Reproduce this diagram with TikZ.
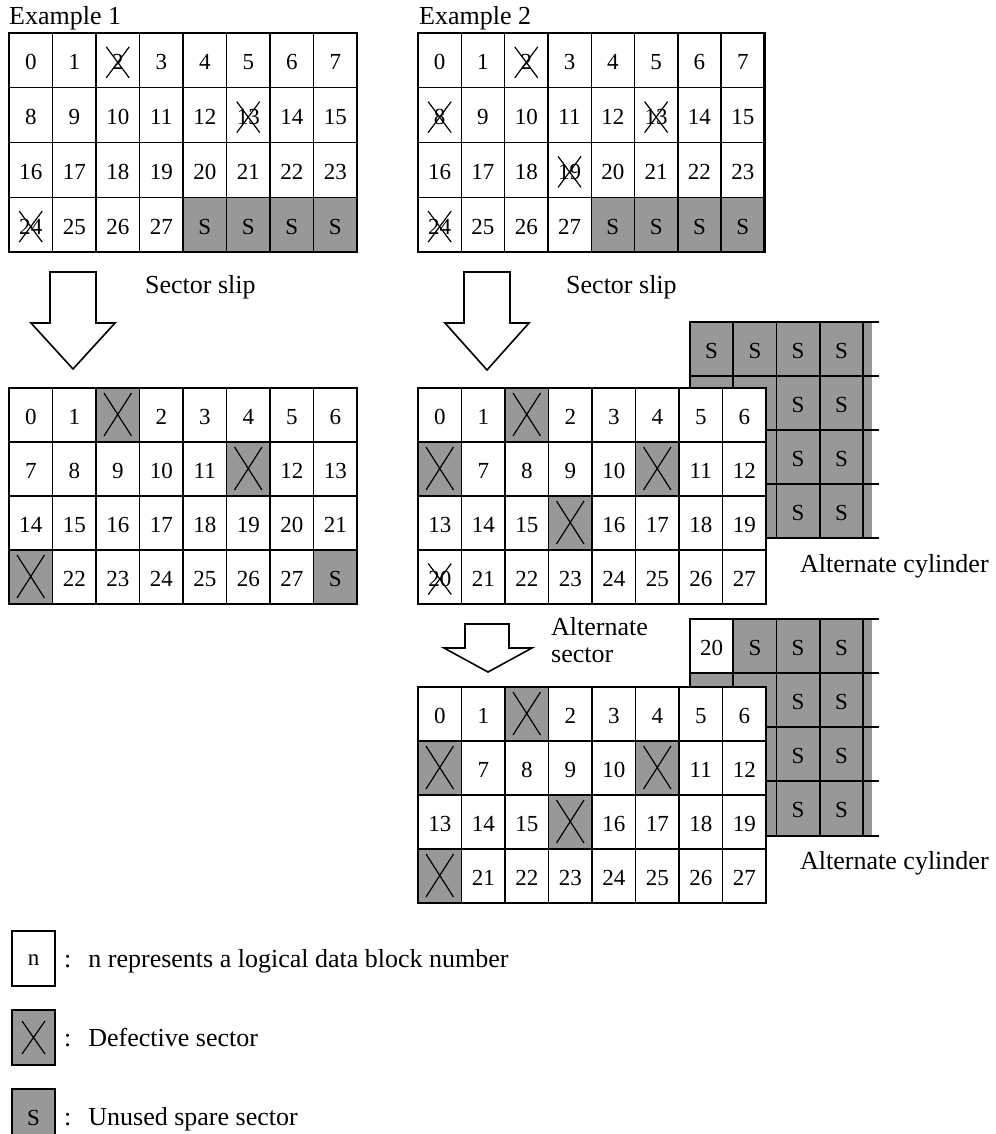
\documentclass[tikz,border=0pt]{standalone}
\usepackage{fontspec}
\setmainfont{Liberation Serif}
\definecolor{sgray}{RGB}{152,152,152}
\tikzset{
  num/.style={font=\fontsize{23}{23}\selectfont, inner sep=0pt},
  lbl/.style={font=\fontsize{26}{28}\selectfont, inner sep=0pt, anchor=base west},
  gridline/.style={line width=1.4pt},
  border/.style={line width=2.8pt},
  xline/.style={line width=1.2pt},
  blockarrow/.style={draw, line width=1.6pt, fill=white, line join=miter},
}
% #1 name, #2 x0, #3 y0, #4 cell width, #5 cell height, #6 gray cells c/r, #7 texts
\newcommand\sgrid[7]{%
  \begin{scope}[shift={(#2,#3)}]
    \fill[white] (0,0) rectangle ({8*#4},{4*#5});
    \foreach \c/\r in {#6} \fill[sgray] ({\c*#4},{\r*#5}) rectangle ++(#4,#5);
    \foreach \c in {1,...,7} \draw[gridline] ({\c*#4},0) -- ({\c*#4},{4*#5});
    \foreach \r in {1,2,3} \draw[gridline] (0,{\r*#5}) -- ({8*#4},{\r*#5});
    \draw[border] (0,0) rectangle ({8*#4},{4*#5});
    \foreach \t [count=\i from 0] in {#7} {
      \pgfmathtruncatemacro\cc{mod(\i,8)}
      \pgfmathtruncatemacro\rr{div(\i,8)}
      \node[num] (#1-\i) at ({(\cc+0.5)*#4},{(\rr+0.5)*#5+2}) {\t};
    }
  \end{scope}}
% defective cell cross: #1 x0, #2 y0, #3 w, #4 h, #5 col, #6 row
\newcommand\defx[6]{%
  \draw[xline] ({#1+#5*#3+8},{#2+#6*#4+5}) -- ({#1+(#5+1)*#3-8},{#2+(#6+1)*#4-6})
               ({#1+(#5+1)*#3-8},{#2+#6*#4+5}) -- ({#1+#5*#3+8},{#2+(#6+1)*#4-6});}
% struck-through number
\newcommand\strike[1]{%
  \draw[xline] (#1.center) ++(-11.5,-15.5) -- ++(23,31) ++(0,-31) -- ++(-23,31);}
% block arrow: #1 centre x, #2 top, #3 head start, #4 tip
\newcommand\barrow[4]{%
  \draw[blockarrow] ({#1-23},#2) -- ({#1+23},#2) -- ({#1+23},#3) -- ({#1+42},#3)
     -- (#1,#4) -- ({#1-42},#3) -- ({#1-23},#3) -- cycle;}
\begin{document}
\begin{tikzpicture}[x=1pt,y=-1pt]
\useasboundingbox (0,0) rectangle (995,1134);

% ---------- titles ----------
\node[lbl] (t1) at (9,25) {Example 1};
\node[lbl] (t2) at (419,25) {Example 2};

% ---------- top grids ----------
\sgrid{A}{9}{33}{43.5}{54.75}{4/3,5/3,6/3,7/3}{0,1,2,3,4,5,6,7,8,9,10,11,12,13,14,15,16,17,18,19,20,21,22,23,24,25,26,27,S,S,S,S}
\strike{A-2}\strike{A-13}\strike{A-24}

\sgrid{B}{418}{33}{43.3}{54.75}{4/3,5/3,6/3,7/3}{0,1,2,3,4,5,6,7,8,9,10,11,12,13,14,15,16,17,18,19,20,21,22,23,24,25,26,27,S,S,S,S}
\strike{B-2}\strike{B-8}\strike{B-13}\strike{B-19}\strike{B-24}

% ---------- arrows and labels ----------
\barrow{73}{272}{323}{369}
\node[lbl] (s1) at (145,293) {Sector slip};
\barrow{487}{272}{323}{370}
\node[lbl] (s2) at (566,293) {Sector slip};

% ---------- Example 1 result ----------
\sgrid{C}{9}{388}{43.5}{54}{2/0,5/1,0/3,7/3}{0,1,,2,3,4,5,6,7,8,9,10,11,,12,13,14,15,16,17,18,19,20,21,,22,23,24,25,26,27,S}
\defx{9}{388}{43.5}{54}{2}{0}\defx{9}{388}{43.5}{54}{5}{1}\defx{9}{388}{43.5}{54}{0}{3}

% ---------- alternate cylinder 1 ----------
\fill[sgray] (690,322) rectangle (872,538);
\foreach \x in {733,776.5,820,863} \draw[gridline] (\x,322) -- (\x,538);
\foreach \y in {376,430,484} \draw[gridline] (690,\y) -- (879,\y);
\draw[border] (879,322) -- (690,322) -- (690,538) -- (879,538);
\node[num] (ca1) at (711.5,351) {S};
\node[num] (ca2) at (755,351) {S};
\node[num] (ca3) at (798,351) {S};
\node[num] (ca4) at (841.5,351) {S};
\foreach \r/\y in {1/405,2/459,3/513} {
  \node[num] (ca\r a) at (798,\y) {S};
  \node[num] (ca\r b) at (841.5,\y) {S};
}
\node[lbl] (ac1) at (800,572) {Alternate cylinder};

% ---------- Example 2 middle ----------
\sgrid{D}{418}{388}{43.5}{54}{2/0,0/1,5/1,3/2}{0,1,,2,3,4,5,6,,7,8,9,10,,11,12,13,14,15,,16,17,18,19,20,21,22,23,24,25,26,27}
\defx{418}{388}{43.5}{54}{2}{0}\defx{418}{388}{43.5}{54}{0}{1}\defx{418}{388}{43.5}{54}{5}{1}\defx{418}{388}{43.5}{54}{3}{2}
\strike{D-24}

% ---------- alternate sector arrow ----------
\draw[blockarrow] (465,624) -- (509,624) -- (509,648) -- (532,648) -- (488,672) -- (444,648) -- (465,648) -- cycle;
\node[lbl] (as1) at (551,635) {Alternate};
\node[lbl] (as2) at (551,662) {sector};

% ---------- alternate cylinder 2 ----------
\fill[sgray] (690,619) rectangle (872,836);
\fill[white] (690,619) rectangle (733,673);
\foreach \x in {733,776.5,820,863} \draw[gridline] (\x,619) -- (\x,836);
\foreach \y in {673,727,781} \draw[gridline] (690,\y) -- (879,\y);
\draw[border] (879,619) -- (690,619) -- (690,836) -- (879,836);
\node[num] (cb1) at (711.5,648) {20};
\node[num] (cb2) at (755,648) {S};
\node[num] (cb3) at (798,648) {S};
\node[num] (cb4) at (841.5,648) {S};
\foreach \r/\y in {1/702,2/756,3/810} {
  \node[num] (cb\r a) at (798,\y) {S};
  \node[num] (cb\r b) at (841.5,\y) {S};
}
\node[lbl] (ac2) at (800,869) {Alternate cylinder};

% ---------- Example 2 bottom ----------
\sgrid{E}{418}{687}{43.5}{54}{2/0,0/1,5/1,3/2,0/3}{0,1,,2,3,4,5,6,,7,8,9,10,,11,12,13,14,15,,16,17,18,19,,21,22,23,24,25,26,27}
\defx{418}{687}{43.5}{54}{2}{0}\defx{418}{687}{43.5}{54}{0}{1}\defx{418}{687}{43.5}{54}{5}{1}\defx{418}{687}{43.5}{54}{3}{2}\defx{418}{687}{43.5}{54}{0}{3}

% ---------- legend ----------
\draw[gridline] (12,931) rectangle (55,986);
\node[num] (ln) at (33.5,960) {n};
\node[lbl] (lt1) at (64,967) {:\hspace{17pt}n represents a logical data block number};

\fill[sgray] (12,1010) rectangle (55,1065);
\draw[gridline] (12,1010) rectangle (55,1065);
\draw[xline] (22,1021) -- (45,1054) (45,1021) -- (22,1054);
\node[lbl] (lt2) at (64,1046) {:\hspace{17pt}Defective sector};

\fill[sgray] (12,1089) rectangle (55,1144);
\draw[gridline] (12,1144) -- (12,1089) -- (55,1089) -- (55,1144);
\node[num] (ls) at (33.5,1118) {S};
\node[lbl] (lt3) at (64,1125) {:\hspace{17pt}Unused spare sector};
\end{tikzpicture}
\end{document}
